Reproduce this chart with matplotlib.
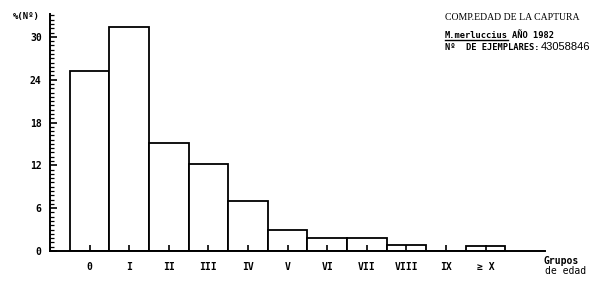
import matplotlib
matplotlib.use("Agg")
import matplotlib.pyplot as plt
import numpy as np

# age groups and % of catch
grupos = ["0", "I", "II", "III", "IV", "V", "VI", "VII", "VIII", "IX", "\u2265 X"]
porcentaje = [25.2, 31.4, 15.1, 12.2, 7.0, 2.9, 1.8, 1.8, 0.85, 0.0, 0.75]
y_ticks = [0, 6, 12, 18, 24, 30]

mono = "DejaVu Sans Mono"

fig = plt.figure(figsize=(6.0, 2.82), dpi=100)
ax = fig.add_axes([50 / 600, 31 / 282, 495 / 600, 237 / 282])

x = np.arange(len(grupos))
ax.bar(x, porcentaje, width=1.0, color="white", edgecolor="black", linewidth=1.3)

ax.set_xlim(-1, 11.5)
ax.set_ylim(0, 33.2)

for s in ["top", "right"]:
    ax.spines[s].set_visible(False)
for s in ["left", "bottom"]:
    ax.spines[s].set_linewidth(1.4)

ax.set_yticks(y_ticks)
ax.set_yticklabels([str(v) for v in y_ticks], fontfamily=mono, fontweight="bold", fontsize=7)
ax.set_yticks(np.arange(0, 33.2, 0.6), minor=True)
ax.tick_params(axis="y", which="major", direction="in", length=5, width=1.2, pad=6)
ax.tick_params(axis="y", which="minor", direction="in", length=3, width=0.9)

ax.set_xticks(x)
ax.set_xticklabels(grupos, fontfamily=mono, fontweight="bold", fontsize=7)
ax.tick_params(axis="x", which="major", direction="in", length=4, width=1.2, pad=8)

# titles and notes
fig.text(13 / 600, 1 - 17 / 282, "%(Nº)", fontfamily=mono, fontweight="bold", fontsize=6.5, va="center")
fig.text(445 / 600, 1 - 17 / 282, "COMP.EDAD DE LA CAPTURA", fontfamily="Liberation Serif", fontsize=7, va="center")
fig.text(445 / 600, 1 - 35 / 282, "M.merluccius", fontfamily=mono, fontweight="bold", fontsize=6.3, va="center")
fig.text(512 / 600, 1 - 35 / 282, "AÑO 1982", fontfamily=mono, fontweight="bold", fontsize=6.3, va="center")
fig.add_artist(plt.Line2D([445 / 600, 508 / 600], [1 - 40 / 282, 1 - 40 / 282], color="black", linewidth=1))
fig.text(445 / 600, 1 - 47 / 282, "Nº  DE EJEMPLARES:", fontfamily=mono, fontweight="bold", fontsize=6.3, va="center")
fig.text(541 / 600, 1 - 47 / 282, "43058846", fontfamily="Liberation Sans", fontsize=8, va="center")
fig.text(543 / 600, 1 - 261 / 282, "Grupos", fontfamily=mono, fontweight="bold", fontsize=7, va="center")
fig.text(545 / 600, 1 - 271 / 282, "de edad", fontfamily=mono, fontsize=7, va="center")

fig.savefig("out.png", dpi=100)
